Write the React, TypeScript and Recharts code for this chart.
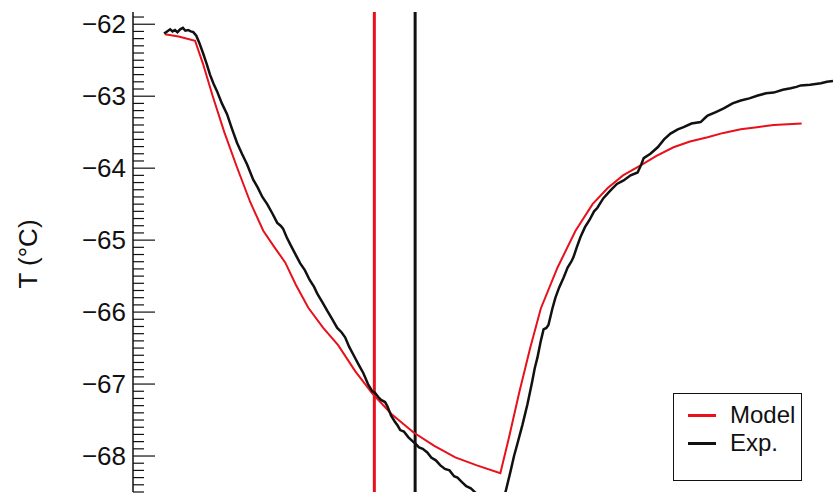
import { LineChart, Line, XAxis, YAxis, ReferenceLine } from "recharts";

// Model prediction (time, temperature)
const modelTime = [
  1.05, 1.5, 2.04, 2.3, 2.62, 3.0, 3.41, 3.85, 4.28, 4.65, 5.0, 5.35, 5.76, 6.25, 6.74, 7.3, 7.86, 8.5,
  9.21, 9.9, 10.59, 11.3, 12.07, 12.35, 12.7, 13.05, 13.4, 13.95, 14.54, 15.1, 15.59, 16.1, 16.68, 17.2,
  17.76, 18.3, 18.88, 19.4, 19.97, 20.5, 21.05, 21.97,
];
const modelTemp = [
  -62.14, -62.17, -62.23, -62.55, -63.0, -63.5, -63.98, -64.47, -64.87, -65.1, -65.31, -65.62, -65.94,
  -66.22, -66.46, -66.82, -67.13, -67.42, -67.67, -67.86, -68.02, -68.13, -68.24, -67.75, -67.1, -66.5,
  -65.95, -65.38, -64.87, -64.5, -64.28, -64.1, -63.96, -63.83, -63.71, -63.63, -63.57, -63.51, -63.46,
  -63.43, -63.4, -63.38,
];

// Measured temperature (time, temperature)
const expTime = [
  1.02, 1.12, 1.22, 1.3, 1.38, 1.46, 1.55, 1.64, 1.72, 1.81, 1.9, 1.98, 2.08, 2.18, 2.3, 2.42, 2.53, 2.65,
  2.76, 2.92, 3.09, 3.25, 3.42, 3.58, 3.75, 3.95, 4.1, 4.25, 4.41, 4.58, 4.74, 4.85, 4.93, 5.05, 5.18,
  5.33, 5.49, 5.65, 5.8, 5.95, 6.05, 6.22, 6.38, 6.55, 6.71, 6.85, 6.97, 7.1, 7.25, 7.4, 7.57, 7.72, 7.86,
  7.95, 8.06, 8.15, 8.28, 8.36, 8.48, 8.6, 8.7, 8.78, 8.9, 9.05, 9.2, 9.28, 9.4, 9.52, 9.67, 9.8, 9.95,
  10.1, 10.25, 10.4, 10.55, 10.66, 10.8, 10.95, 11.1, 11.18, 11.3, 11.45, 11.6, 11.74, 11.9, 12.07, 12.24,
  12.4, 12.52, 12.63, 12.8, 12.96, 13.1, 13.2, 13.29, 13.4, 13.49, 13.58, 13.65, 13.78, 13.88, 14.0, 14.15,
  14.28, 14.4, 14.47, 14.58, 14.7, 14.85, 15.0, 15.15, 15.26, 15.45, 15.6, 15.69, 15.9, 16.12, 16.35,
  16.58, 16.7, 16.78, 17.0, 17.24, 17.45, 17.66, 17.9, 18.09, 18.35, 18.65, 18.8, 18.88, 19.15, 19.41,
  19.7, 19.97, 20.25, 20.53, 20.8, 21.05, 21.35, 21.61, 21.8, 21.94, 22.25, 22.6, 22.8, 23.0,
];
const expTemp = [
  -62.13, -62.1, -62.07, -62.1, -62.08, -62.11, -62.07, -62.05, -62.09, -62.08, -62.1, -62.11, -62.16,
  -62.26, -62.4, -62.55, -62.7, -62.83, -62.93, -63.1, -63.25, -63.45, -63.65, -63.8, -63.95, -64.16,
  -64.27, -64.4, -64.5, -64.63, -64.76, -64.8, -64.84, -64.96, -65.07, -65.19, -65.32, -65.42, -65.55,
  -65.65, -65.74, -65.86, -65.98, -66.1, -66.22, -66.28, -66.35, -66.48, -66.6, -66.72, -66.85, -67.0,
  -67.1, -67.12, -67.18, -67.22, -67.25, -67.31, -67.44, -67.52, -67.58, -67.64, -67.66, -67.74, -67.8,
  -67.83, -67.88, -67.9, -67.95, -68.02, -68.06, -68.13, -68.18, -68.2, -68.28, -68.3, -68.36, -68.42,
  -68.45, -68.48, -68.53, -68.56, -68.58, -68.6, -68.6, -68.58, -68.5, -68.22, -68.0, -67.83, -67.56,
  -67.28, -67.0, -66.78, -66.63, -66.4, -66.24, -66.22, -66.18, -65.95, -65.8, -65.66, -65.52, -65.38,
  -65.3, -65.24, -65.1, -64.96, -64.82, -64.72, -64.6, -64.55, -64.42, -64.35, -64.31, -64.22, -64.17,
  -64.1, -64.06, -63.95, -63.86, -63.8, -63.71, -63.6, -63.52, -63.46, -63.43, -63.38, -63.36, -63.3,
  -63.27, -63.22, -63.17, -63.1, -63.06, -63.03, -62.99, -62.96, -62.95, -62.91, -62.89, -62.87, -62.85,
  -62.84, -62.82, -62.8, -62.79,
];

// Vertical markers (model / experiment)
const modelMarker = 7.93;
const expMarker = 9.27;

const yMajorTicks = [-68, -67, -66, -65, -64, -63, -62];
const xMajorTicks = [2, 7, 12, 17, 22];
const xDomain = [0, 23];
const yDomain = [-68.5, -61.83];

const RED = "#e8101a";
const INK = "#111";

const modelRows = modelTime.map((t, i) => ({ time: t, temp: modelTemp[i] }));
const expRows = expTime.map((t, i) => ({ time: t, temp: expTemp[i] }));

// minor ticks: 1 unit on x, 0.1 °C on y
const xTicks: number[] = [];
for (let v = xDomain[0]; v <= xDomain[1]; v++) xTicks.push(v);
const yTicks: number[] = [];
for (let k = -685; k <= -619; k++) yTicks.push(k / 10);

const isMajorY = (v: number) => yMajorTicks.some((m) => Math.abs(m - v) < 1e-6);

const XTick = ({ x, y, payload, side }: any) => {
  const len = xMajorTicks.includes(payload.value) ? 11 : 6;
  const dir = side === "top" ? 1 : -1;
  return <line x1={x} y1={y} x2={x} y2={y + dir * len} stroke={INK} strokeWidth={1.2} />;
};

const YTick = ({ x, y, payload, side }: any) => {
  const major = isMajorY(payload.value);
  const len = major ? 22 : 11;
  const dir = side === "left" ? 1 : -1;
  return (
    <g>
      <line x1={x} y1={y} x2={x + dir * len} y2={y} stroke={INK} strokeWidth={1.2} />
      {major && side === "left" && (
        <text x={x - 7} y={y} textAnchor="end" dominantBaseline="central" fontSize={26} fill={INK}>
          {"\u2212" + Math.abs(Math.round(payload.value))}
        </text>
      )}
    </g>
  );
};

const legendItems = [
  { name: "Model", color: RED },
  { name: "Exp.", color: INK },
];

export default function App() {
  return (
    <div
      style={{
        position: "absolute",
        left: 0,
        top: 0,
        width: 835,
        height: 495,
        background: "#fff",
        fontFamily: "'Liberation Sans', Arial, sans-serif",
        overflow: "hidden",
      }}
    >
      <LineChart width={835} height={495} margin={{ top: 12, right: 2, bottom: 3, left: 73 }}>
        <XAxis
          xAxisId="b"
          type="number"
          dataKey="time"
          domain={xDomain}
          ticks={xTicks}
          interval={0}
          allowDataOverflow
          height={0}
          tickSize={0}
          tickMargin={0}
          tickLine={false}
          axisLine={{ stroke: INK, strokeWidth: 1.5 }}
          tick={(p: any) => <XTick {...p} side="bottom" />}
        />
        <XAxis
          xAxisId="t"
          orientation="top"
          type="number"
          dataKey="time"
          domain={xDomain}
          ticks={xTicks}
          interval={0}
          allowDataOverflow
          height={0}
          tickSize={0}
          tickMargin={0}
          tickLine={false}
          axisLine={{ stroke: INK, strokeWidth: 1.5 }}
          tick={(p: any) => <XTick {...p} side="top" />}
        />
        <YAxis
          yAxisId="l"
          type="number"
          domain={yDomain}
          ticks={yTicks}
          interval={0}
          allowDataOverflow
          width={60}
          tickSize={0}
          tickMargin={0}
          tickLine={false}
          axisLine={{ stroke: INK, strokeWidth: 1.5 }}
          tick={(p: any) => <YTick {...p} side="left" />}
        />
        <YAxis
          yAxisId="r"
          orientation="right"
          type="number"
          domain={yDomain}
          ticks={yTicks}
          interval={0}
          allowDataOverflow
          width={0}
          tickSize={0}
          tickMargin={0}
          tickLine={false}
          axisLine={{ stroke: INK, strokeWidth: 1.5 }}
          tick={(p: any) => <YTick {...p} side="right" />}
        />
        <ReferenceLine xAxisId="b" yAxisId="l" x={modelMarker} stroke={RED} strokeWidth={3} />
        <ReferenceLine xAxisId="b" yAxisId="l" x={expMarker} stroke={INK} strokeWidth={3} />
        <Line
          xAxisId="b"
          yAxisId="l"
          data={modelRows}
          dataKey="temp"
          type="linear"
          stroke={RED}
          strokeWidth={2}
          dot={false}
          isAnimationActive={false}
        />
        <Line
          xAxisId="b"
          yAxisId="l"
          data={expRows}
          dataKey="temp"
          type="linear"
          stroke={INK}
          strokeWidth={2.5}
          dot={false}
          isAnimationActive={false}
        />
      </LineChart>

      <div
        style={{
          position: "absolute",
          left: 28,
          top: 254,
          transform: "translate(-50%, -50%) rotate(-90deg)",
          fontSize: 26,
          color: INK,
          whiteSpace: "nowrap",
        }}
      >
        T (°C)
      </div>

      <div
        style={{
          position: "absolute",
          left: 673,
          top: 393,
          width: 127,
          height: 79,
          border: `1.5px solid ${INK}`,
          background: "#fff",
          paddingTop: 7,
          boxSizing: "content-box",
        }}
      >
        {legendItems.map((item) => (
          <div key={item.name} style={{ display: "flex", alignItems: "center", height: 28, marginLeft: 14 }}>
            <div style={{ width: 28, height: 3, background: item.color, marginRight: 14 }} />
            <span style={{ fontSize: 24, color: INK, lineHeight: "28px" }}>{item.name}</span>
          </div>
        ))}
      </div>
    </div>
  );
}
